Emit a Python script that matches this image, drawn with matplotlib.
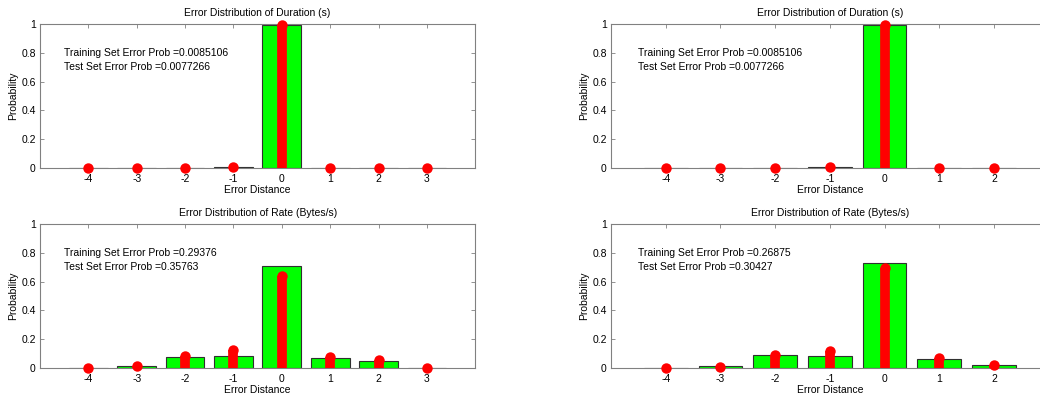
import matplotlib.pyplot as plt

plt.rcParams['font.family'] = ['Liberation Sans', 'DejaVu Sans']

# Distancias de error
dist_izq = [-4, -3, -2, -1, 0, 1, 2, 3]
dist_der = [-4, -3, -2, -1, 0, 1, 2]

# Duracion (s) - entrenamiento (barras) y prueba (rojo)
dur_train_izq = [0.0, 0.001, 0.001, 0.006, 0.9915, 0.0005, 0.0, 0.0]
dur_test_izq = [0.0, 0.0, 0.0, 0.0077, 0.9923, 0.0, 0.0, 0.0]
dur_train_der = [0.0, 0.001, 0.001, 0.006, 0.9915, 0.0005, 0.0]
dur_test_der = [0.0, 0.0, 0.0, 0.0077, 0.9923, 0.0, 0.0]

# Tasa (Bytes/s)
rate_train_izq = [0.002, 0.012, 0.078, 0.083, 0.706, 0.072, 0.048, 0.002]
rate_test_izq = [0.0, 0.012, 0.085, 0.125, 0.642, 0.078, 0.057, 0.0]
rate_train_der = [0.002, 0.011, 0.090, 0.083, 0.731, 0.060, 0.023]
rate_test_der = [0.0, 0.008, 0.092, 0.118, 0.696, 0.068, 0.018]

# Textos
dur_textos = ["Training Set Error Prob =0.0085106", "Test Set Error Prob =0.0077266"]
rate_izq_textos = ["Training Set Error Prob =0.29376", "Test Set Error Prob =0.35763"]
rate_der_textos = ["Training Set Error Prob =0.26875", "Test Set Error Prob =0.30427"]

fig = plt.figure(figsize=(10.4, 4), dpi=100)

paneles = [
    ([0.0385, 0.58, 0.4185, 0.36], dist_izq, dur_train_izq, dur_test_izq, dur_textos,
     "Error Distribution of Duration (s)", 4),
    ([0.5875, 0.58, 0.4208, 0.36], dist_der, dur_train_der, dur_test_der, dur_textos,
     "Error Distribution of Duration (s)", 3),
    ([0.0385, 0.08, 0.4185, 0.36], dist_izq, rate_train_izq, rate_test_izq, rate_izq_textos,
     "Error Distribution of Rate (Bytes/s)", 4),
    ([0.5875, 0.08, 0.4208, 0.36], dist_der, rate_train_der, rate_test_der, rate_der_textos,
     "Error Distribution of Rate (Bytes/s)", 3),
]

for pos, x, train, test, textos, titulo, xmax in paneles:
    ax = fig.add_axes(pos)
    ax.bar(x, train, width=0.8, color="#00ff00", edgecolor="#303030", linewidth=0.8, zorder=2)
    ax.vlines(x, 0, test, color="red", linewidth=7, zorder=3)
    ax.plot(x, test, "o", color="red", markersize=7.5, markeredgewidth=0, zorder=4, clip_on=False)
    ax.set_xlim(-5, xmax)
    ax.set_ylim(0, 1)
    ax.set_xticks(x)
    ax.set_xticklabels([str(v) for v in x])
    ax.set_yticks([0, 0.2, 0.4, 0.6, 0.8, 1])
    ax.set_yticklabels(["0", "0.2", "0.4", "0.6", "0.8", "1"])
    ax.tick_params(direction="in", top=True, right=True, length=3, width=0.6,
                   color="#808080", labelsize=7.5)
    ax.tick_params(axis="x", pad=4)
    ax.tick_params(axis="y", pad=3)
    for s in ax.spines.values():
        s.set_color("#808080")
        s.set_linewidth(0.8)
    ax.set_title(titulo, fontsize=7.5, pad=6)
    ax.set_xlabel("Error Distance", fontsize=7.5, labelpad=1)
    ax.set_ylabel("Probability", fontsize=7.5, labelpad=2)
    ax.text(-4.5, 0.8, textos[0], fontsize=7.5, va="center")
    ax.text(-4.5, 0.7, textos[1], fontsize=7.5, va="center")

plt.savefig("out.png", dpi=100)
